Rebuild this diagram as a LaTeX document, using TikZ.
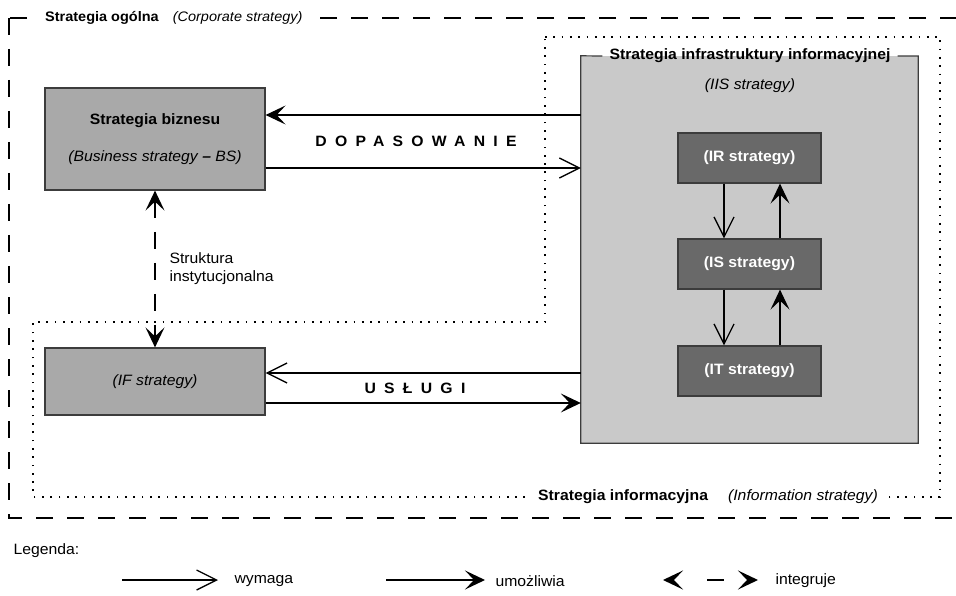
\documentclass[tikz,border=0pt]{standalone}
\usepackage{fontspec}
\setmainfont{Liberation Sans}[FakeStretch=1.05]
\newfontfamily\spacedfont{Liberation Sans}[FakeStretch=1.05,LetterSpace=55]
\usetikzlibrary{arrows.meta}

\definecolor{boxedge}{HTML}{3C3C3C}
\definecolor{midgray}{HTML}{A9A9A9}
\definecolor{lightgray}{HTML}{C9C9C9}
\definecolor{darkgray}{HTML}{696969}
\newcommand{\diagfont}{\fontsize{15}{17.5}\selectfont}

\begin{document}
\begin{tikzpicture}[x=1pt,y=-1pt,font=\diagfont,
    frame line/.style={line width=1.2pt,dash pattern=on 17pt off 14pt},
    info line/.style={line width=1.7pt,dash pattern=on 1.7pt off 6.6pt},
    main box/.style={draw=boxedge,line width=1.2pt,fill=midgray,minimum width=220pt,align=center,inner sep=0pt},
    sub box/.style={draw=boxedge,line width=1.2pt,fill=darkgray,text=white,font=\diagfont\bfseries,minimum width=143pt,minimum height=50pt,inner sep=0pt},
    wymaga/.style={line width=2pt,-{Straight Barb[length=20pt,width=20pt,line width=1.3pt]}},
    umozliwia/.style={line width=1.2pt,-{Stealth[length=20pt,width=19pt,inset=9pt]}},
    integruje/.style={line width=1.5pt,dash pattern=on 17pt off 14pt,{Stealth[length=20pt,width=19pt,inset=9pt]}-{Stealth[length=20pt,width=19pt,inset=9pt]}}]
    \useasboundingbox (0,0) rectangle (956,596);

    % frames
    \draw[frame line] (9,18) rectangle (975,518);
    \draw[info line] (545,37) -- (940,37) -- (940,497) -- (33,497) -- (33,322) -- (545,322) -- cycle;
    \node[fill=white,anchor=west,inner xsep=6pt,font=\fontsize{13.8}{16}\selectfont] (ogolna) at (39,18) {\textbf{Strategia ogólna}\hspace{14pt}\textit{(Corporate strategy)}};
    \node[fill=white,anchor=east,inner xsep=6pt] (informacyjna) at (884,497) {\textbf{Strategia informacyjna}\hspace{20pt}\textit{(Information strategy)}};

    % boxes
    \node[main box,minimum height=102pt] (biz) at (155,139) {\textbf{Strategia biznesu}\\[20pt]\textit{(Business strategy \textbf{--} BS)}};
    \node[main box,minimum height=67pt] (if) at (155,381.5) {\textit{(IF strategy)}};
    \node[fill=lightgray,minimum width=337pt,minimum height=387pt,inner sep=0pt] (iis) at (749.5,249.5) {};
    \node[inner xsep=7pt,font=\diagfont\bfseries] (iist) at (750,56) {Strategia infrastruktury informacyjnej};
    \draw[draw=boxedge,line width=1.2pt] (iist.east) -| (iis.south east) -| (iis.north west) -- (iist.west);
    \node (iisl) at (750,86) {\textit{(IIS strategy)}};
    \node[sub box] (ir) at (749.5,158) {(IR strategy)};
    \node[sub box] (is) at (749.5,264) {(IS strategy)};
    \node[sub box] (it) at (749.5,371) {(IT strategy)};

    % connectors
    \coordinate (dopU) at ([yshift=24pt]biz.east);
    \coordinate (dopD) at ([yshift=-29pt]biz.east);
    \coordinate (uslU) at ([yshift=8.5pt]if.east);
    \coordinate (uslD) at ([yshift=-21.5pt]if.east);
    \draw[umozliwia] (dopU -| iis.west) -- (dopU);
    \draw[wymaga] (dopD) -- (dopD -| iis.west);
    \draw[wymaga] (uslU -| iis.west) -- (uslU);
    \draw[umozliwia] (uslD) -- (uslD -| iis.west);
    \node[font=\spacedfont\fontsize{15}{17.5}\selectfont\bfseries] (dop) at (416,141) {DOPASOWANIE};
    \node[font=\spacedfont\fontsize{15}{17.5}\selectfont\bfseries] (usl) at (415,388) {USŁUGI};

    \draw[wymaga] ([xshift=-25.5pt]ir.south) -- ([xshift=-25.5pt]is.north);
    \draw[umozliwia] ([xshift=30.5pt]is.north) -- ([xshift=30.5pt]ir.south);
    \draw[wymaga] ([xshift=-25.5pt]is.south) -- ([xshift=-25.5pt]it.north);
    \draw[umozliwia] ([xshift=30.5pt]it.north) -- ([xshift=30.5pt]is.south);

    \draw[integruje] (biz.south) -- (if.north);
    \node[anchor=west,align=left,font=\fontsize{15}{18}\selectfont] (struktura) at (166,269) {Struktura\\instytucjonalna};

    % legend
    \node[anchor=west] (legenda) at (10,551) {Legenda:};
    \coordinate (w1) at (122,580);
    \coordinate (w2) at (218,580);
    \coordinate (u1) at (386,580);
    \coordinate (u2) at (485,580);
    \coordinate (i1) at (663,580);
    \coordinate (i2) at (758,580);
    \draw[wymaga] (w1) -- (w2);
    \draw[umozliwia] (u1) -- (u2);
    \draw[integruje,dash pattern=on 0pt off 34pt on 17pt off 60pt] (i1) -- (i2);
    \node[anchor=west] (wym) at (231,581) {wymaga};
    \node[anchor=west] (umo) at (492,581) {umożliwia};
    \node[anchor=west] (int) at (772,581) {integruje};
\end{tikzpicture}
\end{document}
